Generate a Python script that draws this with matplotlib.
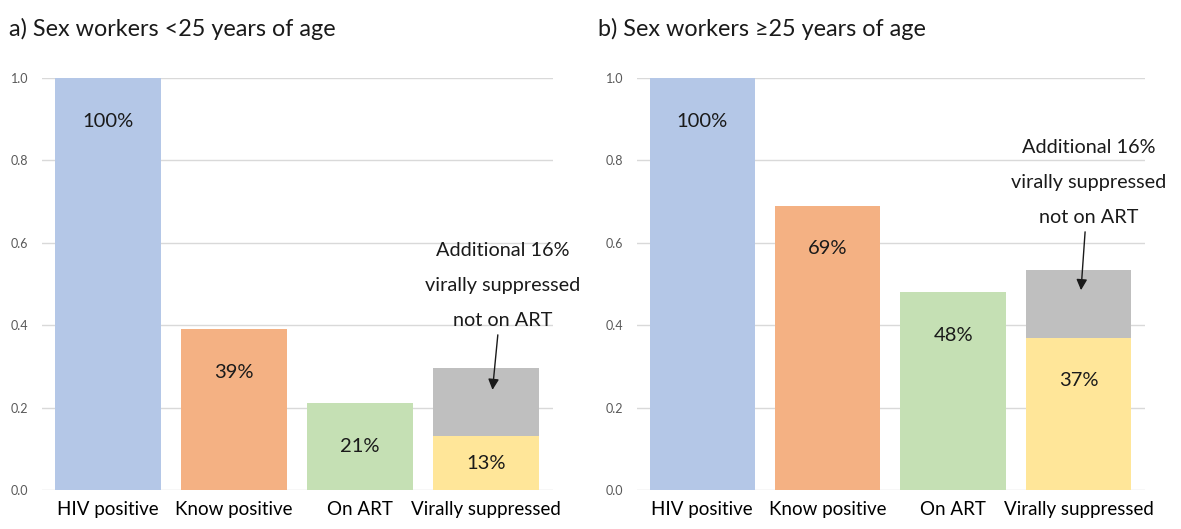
import matplotlib.pyplot as plt

plt.rcParams['font.family'] = ['Lato', 'DejaVu Sans']

# Data
categories = ['HIV positive', 'Know positive', 'On ART', 'Virally suppressed']
under25 = [1.00, 0.39, 0.21, 0.13]
over25 = [1.00, 0.69, 0.48, 0.37]
extra_suppressed = [0.165, 0.165]  # virally suppressed not on ART (a, b)
titles = ['a) Sex workers <25 years of age', 'b) Sex workers \u226525 years of age']
note = 'Additional 16%\nvirally suppressed\nnot on ART'

bar_colors = ['#B4C7E7', '#F4B183', '#C5E0B4', '#FFE699']
grey = '#BFBFBF'

fig = plt.figure(figsize=(11.81, 5.29), dpi=100)
ax_pos = [[0.0356, 0.0737, 0.4327, 0.7789], [0.5394, 0.0737, 0.4301, 0.7789]]
title_x = [0.008, 0.506]
# annotation text position (data coords) and arrow target for each panel
note_xy = [(3.13, 0.39), (3.08, 0.64)]
arrow_xy = [(3.05, 0.243), (3.02, 0.485)]

for i, vals in enumerate([under25, over25]):
    ax = fig.add_axes(ax_pos[i])
    x = range(len(categories))
    ax.bar(x, vals, width=0.84, color=bar_colors, zorder=2)
    ax.bar([3], [extra_suppressed[i]], bottom=[vals[3]], width=0.84, color=grey, zorder=2)

    for xi, v in zip(x, vals):
        ypos = max(v - 0.105, v / 2)
        ax.text(xi, ypos, f'{v * 100:.0f}%', ha='center', va='center', fontsize=14.5, color='#1a1a1a', zorder=3)

    ax.annotate(note, xy=arrow_xy[i], xytext=note_xy[i], ha='center', va='bottom',
                fontsize=14.3, color='#1a1a1a', linespacing=2.3,
                arrowprops=dict(arrowstyle='-|>', color='#1a1a1a', lw=1, mutation_scale=16,
                                shrinkA=2, shrinkB=0), zorder=4)

    ax.set_ylim(0, 1.0)
    ax.set_xlim(-0.52, 3.53)
    ax.set_yticks([0.0, 0.2, 0.4, 0.6, 0.8, 1.0])
    ax.set_yticklabels(['0.0', '0.2', '0.4', '0.6', '0.8', '1.0'])
    ax.set_xticks(list(x))
    ax.set_xticklabels(categories, fontsize=13.5)
    ax.tick_params(axis='y', labelsize=9, labelcolor='#595959', length=0, pad=10)
    ax.tick_params(axis='x', length=0, pad=8)
    ax.grid(axis='y', color='#D9D9D9', lw=1, zorder=0)
    for s in ax.spines.values():
        s.set_visible(False)
    fig.text(title_x[i], 0.945, titles[i], fontsize=16.8, va='center', ha='left', color='#1a1a1a')

plt.savefig('out.png', dpi=100)
